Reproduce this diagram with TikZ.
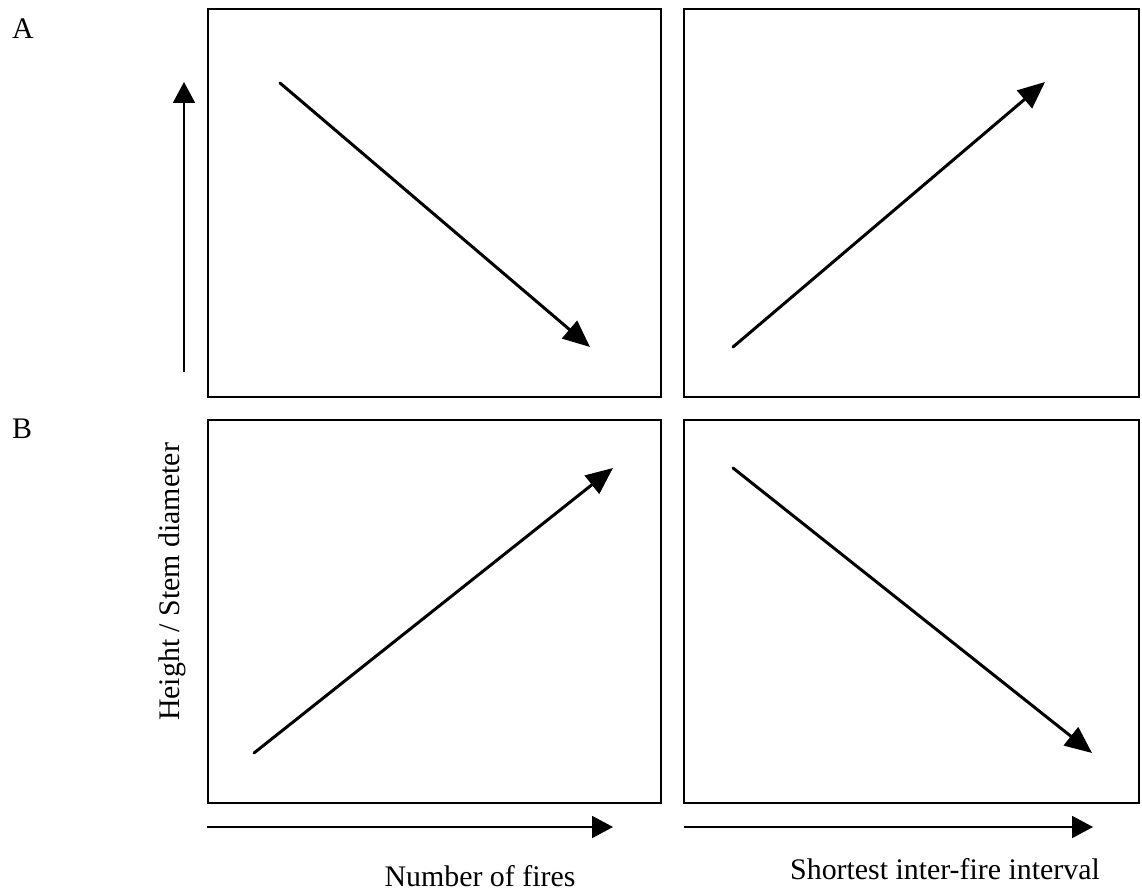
\documentclass[tikz,border=0pt]{standalone}
\usepackage{fontspec}
\setmainfont{Liberation Serif}
\usetikzlibrary{positioning, arrows.meta}

\begin{document}
\begin{tikzpicture}[x=0.02cm, y=-0.02cm,
  panel/.style={line width=1.1pt},
  trend/.style={line width=1.7pt, line cap=round, -{Triangle[length=0.54cm, width=0.46cm]}},
  axis/.style={line width=1.1pt, -{Triangle[length=0.42cm, width=0.44cm]}},
  lab/.style={font=\fontsize{17}{20}\selectfont, inner sep=0pt}]
\useasboundingbox (0,0) rectangle (1142,891);

% panels
\coordinate (TLa) at (208,9);   \coordinate (TLb) at (661,397);
\coordinate (TRa) at (684,9);   \coordinate (TRb) at (1139,397);
\coordinate (BLa) at (208,420); \coordinate (BLb) at (661,803);
\coordinate (BRa) at (684,420); \coordinate (BRb) at (1139,803);
\draw[panel] (TLa) rectangle (TLb);
\draw[panel] (TRa) rectangle (TRb);
\draw[panel] (BLa) rectangle (BLb);
\draw[panel] (BRa) rectangle (BRb);

% trends
\coordinate (T0) at (280,83);  \coordinate (T1) at (590,347);
\coordinate (T2) at (733,347); \coordinate (T3) at (1045,82);
\coordinate (T4) at (254,753); \coordinate (T5) at (613,468);
\coordinate (T6) at (733,468); \coordinate (T7) at (1092,753);
\draw[trend] (T0) -- (T1);
\draw[trend] (T2) -- (T3);
\draw[trend] (T4) -- (T5);
\draw[trend] (T6) -- (T7);

% axes
\coordinate (Y0) at (184,372); \coordinate (Y1) at (184,82);
\coordinate (X0) at (207,827); \coordinate (X1) at (613,827);
\coordinate (X2) at (684,827); \coordinate (X3) at (1093,827);
\draw[axis] (Y0) -- (Y1);
\draw[axis] (X0) -- (X1);
\draw[axis] (X2) -- (X3);

\node[lab] (A) at (23,29) {A};
\node[lab] (B) at (22,429) {B};
\node[lab, rotate=90] (ylab) at (172,582) {Height / Stem diameter};
\node[lab, anchor=base] (xlab1) at (480,886) {Number of fires};
\node[lab, anchor=base] (xlab2) at (945,879) {Shortest inter-fire interval};
\end{tikzpicture}
\end{document}
